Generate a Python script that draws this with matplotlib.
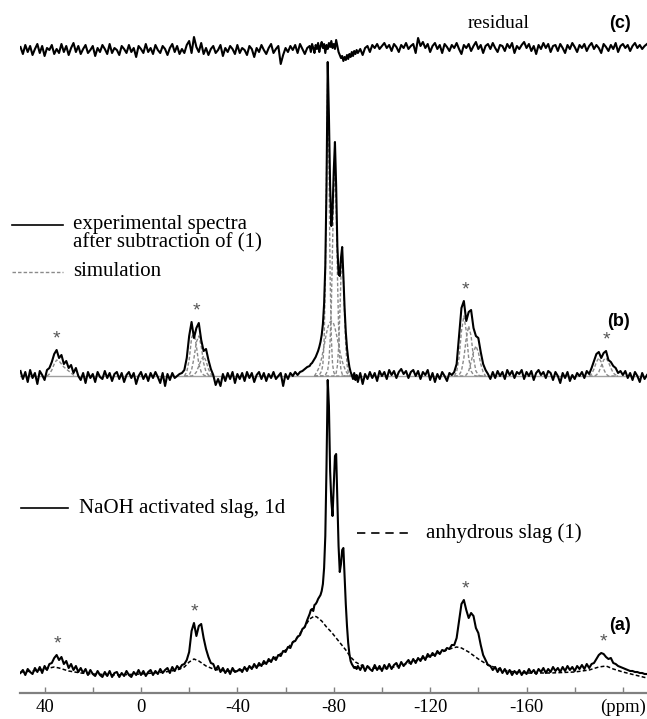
import numpy as np
import matplotlib
matplotlib.use("Agg")
import matplotlib.pyplot as plt

plt.rcParams['font.family'] = ['Liberation Serif', 'DejaVu Serif']

# chemical shift grid (ppm), finer sampling around the main peak
ppm = np.concatenate([np.arange(50, -70, -1.0),
                      np.arange(-70, -90, -0.5),
                      np.arange(-90, -211, -1.0)])

# (a) NaOH activated slag, 1d (intensity, arbitrary units)
slag_1d = [
    3, 6, 1, 7, 4, 2, 8, 4, 9, 3,
    10, 6, 12, 13, 18, 21, 16, 19, 12, 15,
    8, 12, 6, 10, 4, 8, 3, 7, 1, 6,
    2, 0, 5, 1, -1, 4, 0, 5, -1, 3,
    4, -1, 3, 0, 5, 1, -1, 4, 1, 6,
    1, 5, 0, 4, 6, 1, 5, 2, 7, 3,
    6, 8, 3, 9, 5, 10, 7, 11, 12, 16,
    24, 45, 53, 40, 50, 52, 38, 27, 19, 13,
    12, 6, 10, 4, 8, 3, 7, 2, 8, 4,
    5, 7, 4, 9, 5, 10, 7, 12, 8, 13,
    10, 15, 12, 17, 14, 19, 16, 21, 20, 25,
    24, 29, 28, 34, 35, 39, 41, 47, 49, 56,
    # -70 .. -89.5
    62, 66, 67, 65, 71, 72, 74, 77, 79, 81,
    85, 92, 108, 140, 210, 296, 270, 205, 175, 160,
    190, 220, 222, 175, 130, 104, 112, 126, 128, 100,
    72, 50, 33, 22, 15, 12, 10, 8, 9, 7,
    # -90 .. -210
    10, 6, 11, 5, 10, 7, 5, 11, 6, 10,
    5, 11, 7, 12, 7, 11, 13, 8, 14, 10,
    13, 16, 12, 17, 13, 18, 15, 20, 16, 22,
    19, 23, 20, 25, 22, 26, 25, 28, 27, 31,
    31, 38, 55, 72, 76, 66, 58, 63, 60, 48,
    43, 31, 21, 16, 11, 10, 6, 9, 4, 8,
    3, 7, 2, 6, 1, 5, 2, 6, 1, 5,
    2, 7, 3, 6, 2, 7, 4, 8, 3, 7,
    4, 9, 5, 8, 4, 9, 5, 10, 6, 9,
    5, 10, 7, 11, 7, 12, 8, 12, 13, 17,
    21, 23, 22, 19, 17, 18, 13, 12, 10, 9,
    8, 7, 6, 5, 5, 4, 4, 3, 3, 2, 2,
]

# (a) anhydrous slag (1)
anhydrous_ppm = [50, 45, 40, 36, 34, 30, 25, 20, 10, 0, -10, -15, -18, -20, -22,
                 -24, -27, -30, -35, -40, -45, -50, -55, -60, -64, -67, -70, -72,
                 -73, -75, -77, -79, -81, -83, -85, -87, -89, -92, -96, -100, -105,
                 -110, -115, -120, -125, -128, -131, -133, -136, -140, -144, -150,
                 -155, -160, -170, -180, -186, -190, -193, -196, -200, -205, -210]
anhydrous = [4, 5, 7, 9, 8, 5, 3, 2, 1, 2, 4, 6, 9, 14, 17,
             15, 10, 7, 5, 5, 8, 11, 17, 26, 36, 46, 57, 60,
             59, 55, 49, 44, 38, 32, 26, 19, 14, 10, 8, 7, 9,
             12, 16, 20, 24, 27, 29, 28, 24, 17, 11, 6,
             4, 3, 3, 4, 6, 9, 10, 7, 4, 1, -2]

# (b) experimental spectrum after subtraction of (1)
subtracted = [
    5, -3, 4, -6, 6, -2, 3, -8, 5, 1,
    -4, 6, 8, 14, 22, 26, 18, 21, 12, 15,
    8, 11, 3, 8, 0, -4, 3, -7, 4, -2,
    2, -6, 4, -1, -3, 5, -2, 3, -5, 2,
    4, -3, 3, -6, 1, 4, -2, 3, -8, 0,
    4, -3, 2, -5, 3, -2, 4, -1, -7, 3,
    -10, 2, -4, 3, -2, 0, 2, 3, 6, 18,
    40, 54, 38, 48, 53, 36, 25, 27, 16, 7,
    1, -9, -3, -10, 2, -5, 3, -3, 4, -7,
    2, -3, 3, -5, 4, -2, 3, -6, 1, 4,
    -3, 3, -5, 2, -2, 4, -3, 0, 3, -10,
    2, -3, 3, 0, 4, 1, 4, 5, 7, 9,
    # -70 .. -89.5
    10, 12, 13, 15, 17, 19, 22, 25, 29, 34,
    41, 52, 72, 110, 190, 314, 260, 190, 150, 165,
    205, 234, 190, 130, 102, 100, 118, 129, 100, 68,
    44, 28, 17, 9, 4, 1, -3, 3, -4, 1,
    # -90 .. -210
    -6, 3, -8, 2, -3, 4, -2, 3, -5, 5,
    0, 4, -3, 6, 1, 5, -2, 4, 7, 2,
    5, -2, 4, 6, 0, 5, -3, 4, 1, 6,
    -4, 3, -6, 2, -3, 4, 0, -5, 3, 1,
    4, 12, 40, 68, 75, 55, 64, 66, 48, 40,
    38, 24, 12, 6, 2, -3, 4, -2, 5, 0,
    4, -3, 6, 1, 5, -2, 4, 2, 6, -3,
    4, 0, 5, -4, 3, 6, 1, 4, -2, 5,
    3, -4, 4, 0, -7, 3, -2, 4, -5, 1,
    -3, 3, 0, 4, -2, 5, 2, 8, 15, 22,
    24, 18, 23, 25, 16, 14, 10, 8, 3, 5,
    1, 5, -2, 3, -4, 4, 0, -6, 3, -3, 1,
]

# (c) residual
residual = [
    3, -4, 5, -2, 4, -5, 1, 6, -3, 4, -6, 2, 0, 5, -4, 1, -3, 6, -2, 4,
    -5, 2, 7, -2, 4, -4, 1, 5, -3, 0, 4, -6, 2, -2, 5, 1, -4, 6, -3, 2,
    0, -5, 4, 1, -3, 5, -2, 2, -7, 4, 1, -3, 6, -2, 2, -4, 5, 0, -3, 4,
    1, -5, 2, 6, -2, 4, -4, 1, -3, 5, 9, -3, 13, 3, -2, 7, -4, 2, -5, 1,
    4, -3, 0, 5, -6, 2, -2, 4, 1, -4, 5, -3, 2, 0, -5, 4, 1, -7, 2, -2,
    5, 0, -4, 2, 6, -3, 1, 4, -14, -5, 2, -2, 4, 0, 5, -3, 6, 1, -4, 2,
    # -70 .. -89.5
    4, -2, 6, 2, -3, 5, 1, 7, -2, 4, 8, 2, 6, -3, 5, 1, 7, 3, 9, 2,
    6, 1, 10, 4, -2, -5, -8, -6, -11, -7, -10, -5, -9, -4, -7, -2, -6, -1, -4, 0,
    # -90 .. -210
    -3, 1, -5, 2, 4, -2, 5, 2, 6, 1, 4, 7, 2, 5, -1, 6, 3, -2, 5, 2,
    7, 1, 4, 6, -3, 12, 4, 8, 2, 6, -2, 4, 7, 1, 5, -3, 6, 3, -1, 5,
    2, 7, 1, -4, 5, 2, 6, -1, 4, 8, 1, 5, -3, 4, 6, 1, 7, 2, -2, 5,
    4, -1, 6, 2, 7, -3, 4, 1, 5, 8, 2, 6, -1, 4, -4, 5, 1, 7, 2, 6,
    -2, 4, 5, -1, 6, 2, -3, 5, 1, 7, 3, -2, 5, 2, 6, -1, 4, 7, 1, 5,
    2, -3, 6, 3, -1, 5, 1, 7, -2, 4, 6, 2, 5, -1, 4, 7, 2, 5, 1, 4, 6,
]

# (b) simulation components
sim_main_ppm = [-72, -73, -74, -75, -75.5, -76, -76.5, -77, -77.5, -78, -78.5, -79,
                -79.5, -80, -80.5, -81, -81.5, -82, -82.5, -83, -83.5, -84, -84.5,
                -85, -85.5, -86, -87, -88]
sim_main_1 = [0, 0, 1, 5, 12, 35, 95, 200, 300, 215, 100, 38,
              12, 4, 1, 0, 0, 0, 0, 0, 0, 0, 0, 0, 0, 0, 0, 0]
sim_main_2 = [0, 0, 0, 0, 0, 0, 1, 3, 6, 15, 35, 70,
              130, 185, 205, 170, 105, 50, 18, 6, 2, 0, 0, 0, 0, 0, 0, 0]
sim_main_3 = [0, 0, 0, 0, 0, 0, 0, 0, 0, 0, 0, 0,
              0, 0, 1, 3, 10, 28, 60, 100, 118, 98, 62, 30, 12, 4, 0, 0]
sim_main_4 = [0, 4, 9, 18, 24, 30, 37, 43, 48, 52, 54, 55,
              54, 52, 48, 43, 37, 31, 25, 20, 15, 11, 8, 5, 3, 2, 0, 0]

sim_sb1_ppm = [39, 38, 37, 36, 35, 34, 33, 32, 31, 30, 29, 28, 27]
sim_sb1 = [0, 2, 6, 12, 16, 15, 12, 9, 7, 5, 3, 1, 0]

sim_sb2_ppm = [-18, -19, -20, -21, -22, -23, -24, -25, -26, -27, -28, -29, -30]
sim_sb2_a = [0, 4, 16, 38, 44, 30, 12, 4, 1, 0, 0, 0, 0]
sim_sb2_b = [0, 0, 1, 6, 18, 34, 40, 30, 13, 4, 1, 0, 0]
sim_sb2_c = [0, 0, 0, 0, 1, 4, 10, 16, 20, 15, 7, 2, 0]

sim_sb3_ppm = [-130, -131, -132, -133, -134, -135, -136, -137, -138, -139, -140,
               -141, -142, -143]
sim_sb3_a = [0, 4, 18, 45, 60, 45, 18, 5, 1, 0, 0, 0, 0, 0]
sim_sb3_b = [0, 0, 1, 5, 18, 38, 50, 40, 18, 5, 1, 0, 0, 0]
sim_sb3_c = [0, 0, 0, 0, 0, 1, 5, 14, 24, 30, 24, 12, 4, 0]

sim_sb4_ppm = [-186, -187, -188, -189, -190, -191, -192, -193, -194, -195, -196, -197, -198]
sim_sb4_a = [0, 2, 7, 14, 18, 14, 7, 2, 0, 0, 0, 0, 0]
sim_sb4_b = [0, 0, 0, 1, 4, 10, 16, 18, 14, 8, 3, 1, 0]

# spinning sidebands marked with *
sideband_ppm_a = [34.5, -22, -134.5, -192]
sideband_ppm_b = [35, -23, -134.5, -193]

tick_pos = [40, 20, 0, -20, -40, -60, -80, -100, -120, -140, -160, -180, -200]
tick_lab = ['40', '', '0', '', '-40', '', '-80', '', '-120', '', '-160', '', '(ppm)']

# vertical offsets of the stacked traces (pixel-like units)
A_OFF, B_OFF, C_OFF = 17, 317, 643
W, H = 647, 719


def fxy(x, y):
    """pixel position -> figure fraction"""
    return x / W, 1 - y / H


fig = plt.figure(figsize=(W / 100, H / 100), dpi=100)
ax = fig.add_axes([20 / W, 26 / H, 627 / W, 693 / H])
ax.set_xlim(50.2, -210)
ax.set_ylim(0, 693)

ppm_arr = np.asarray(ppm)
a = np.asarray(slag_1d, float)
b = np.asarray(subtracted, float)
c = np.asarray(residual, float)

LW = 1.5

# (c)
ax.plot(ppm_arr, c + C_OFF, color='black', lw=LW, zorder=3)

# (b) simulation + experiment
sim_col = '#8a8a8a'
ax.plot([ppm_arr[0], ppm_arr[-1]], [B_OFF, B_OFF], color='#a0a0a0', lw=1.0, zorder=1)
for xs, comps in [(sim_main_ppm, [sim_main_1, sim_main_2, sim_main_3, sim_main_4]),
                  (sim_sb1_ppm, [sim_sb1]),
                  (sim_sb2_ppm, [sim_sb2_a, sim_sb2_b, sim_sb2_c]),
                  (sim_sb3_ppm, [sim_sb3_a, sim_sb3_b, sim_sb3_c]),
                  (sim_sb4_ppm, [sim_sb4_a, sim_sb4_b])]:
    for comp in comps:
        ax.plot(xs, np.asarray(comp) + B_OFF, color=sim_col, lw=1.0,
                dashes=(2.5, 1.5), zorder=2)
ax.plot(ppm_arr, b + B_OFF, color='black', lw=LW, zorder=3)

# (a)
ax.plot(anhydrous_ppm, np.asarray(anhydrous) + A_OFF, color='black', lw=1.1,
        dashes=(2.5, 1.5), zorder=2)
ax.plot(ppm_arr, a + A_OFF, color='black', lw=LW, zorder=3)

# sideband stars
for sb, trace, off in [(sideband_ppm_a, a, A_OFF), (sideband_ppm_b, b, B_OFF)]:
    for p in sb:
        near = np.abs(ppm_arr - p) <= 2
        ax.text(p, trace[near].max() + off + 11, '*', ha='center', va='center',
                fontsize=14, color='#555555', family='Liberation Sans')

# axis
for s in ['left', 'right', 'top']:
    ax.spines[s].set_visible(False)
ax.spines['bottom'].set_color('#808080')
ax.spines['bottom'].set_linewidth(1.6)
ax.set_yticks([])
ax.set_xticks(tick_pos)
ax.set_xticklabels(tick_lab)
ax.tick_params(axis='x', direction='in', length=4, width=1, color='#808080',
               labelsize=13.5, pad=4)

# trace labels
for txt, (x, y) in [('(c)', (620, 24)), ('(b)', (618, 322)), ('(a)', (620, 625))]:
    fig.text(*fxy(x, y), txt, ha='center', va='center', fontsize=13,
             fontweight='bold', family='Liberation Sans')
fig.text(*fxy(499, 24), 'residual', ha='center', va='center', fontsize=14)


# legends
def legend_line(x0, x1, y, **kw):
    fx0, fy = fxy(x0, y)
    fx1, _ = fxy(x1, y)
    fig.add_artist(plt.Line2D([fx0, fx1], [fy, fy], transform=fig.transFigure, **kw))


legend_line(12, 63, 225, color='black', lw=1.2)
fig.text(*fxy(73, 225), 'experimental spectra', ha='left', va='center', fontsize=15)
fig.text(*fxy(73, 243), 'after subtraction of (1)', ha='left', va='center', fontsize=15)
legend_line(12, 63, 272, color=sim_col, lw=1.0, dashes=(2.5, 1.5))
fig.text(*fxy(73, 271), 'simulation', ha='left', va='center', fontsize=15)

legend_line(21, 68, 508, color='black', lw=1.2)
fig.text(*fxy(79, 508), 'NaOH activated slag, 1d', ha='left', va='center', fontsize=15)
legend_line(357, 411, 533, color='black', lw=1.2, dashes=(5, 3.5))
fig.text(*fxy(426, 533), 'anhydrous slag (1)', ha='left', va='center', fontsize=15)

fig.savefig('out.png', dpi=100)
